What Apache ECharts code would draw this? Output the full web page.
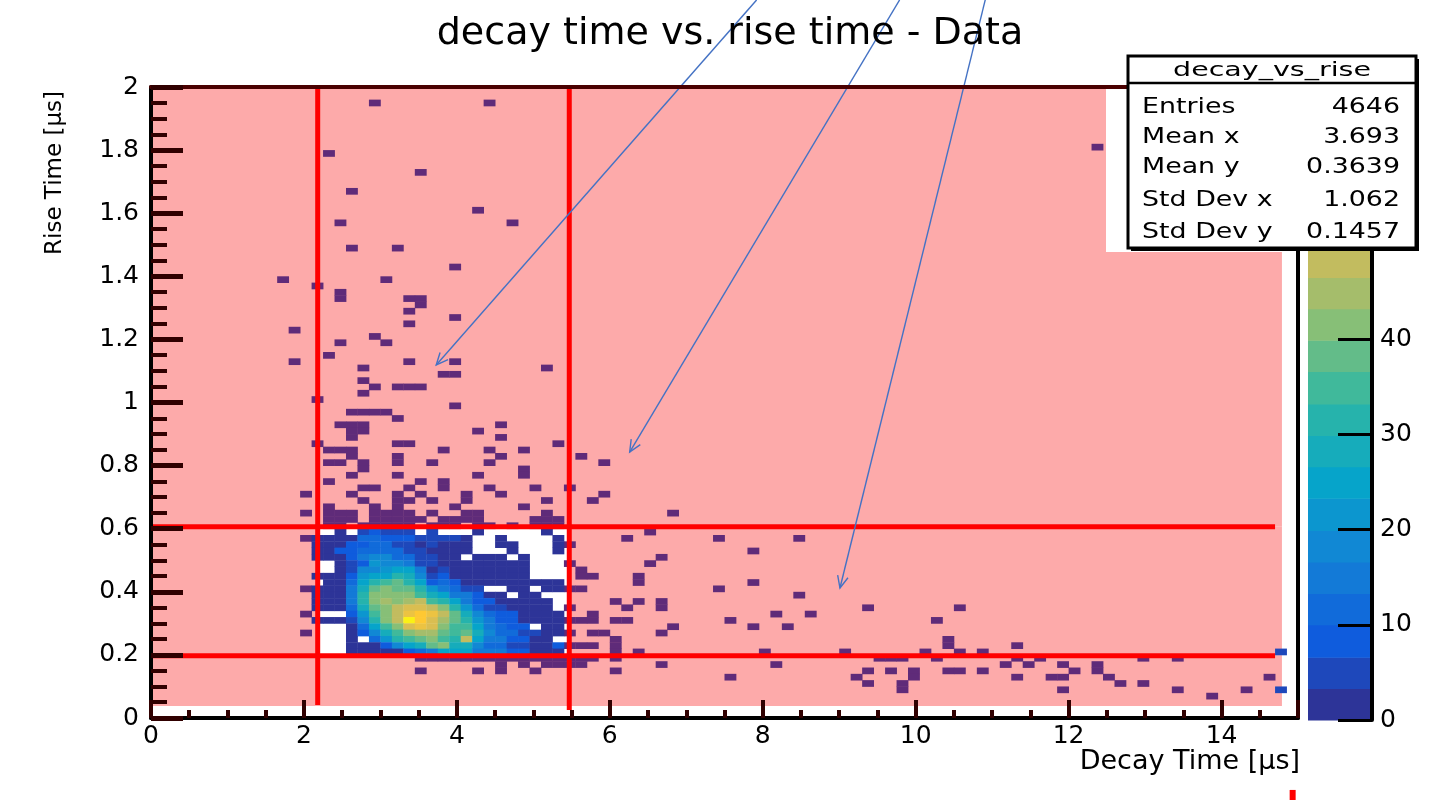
<!DOCTYPE html>
<html>
<head>
<meta charset="utf-8">
<title>decay time vs. rise time - Data</title>
<script src="https://cdn.jsdelivr.net/npm/echarts@6/dist/echarts.min.js"></script>
<style>
  html, body { margin: 0; padding: 0; background: #fff; }
  #chart { width: 1441px; height: 800px; }
</style>
</head>
<body>
<div id="chart"></div>
<script>
// TH2 binning: 100 x 100 bins over [0,15] us x [0,2] us
const xBinWidth = 0.15;
const yBinWidth = 0.02;

// counts of the unmasked box, rows from bin y=29 down to y=10, columns x=14..35
const coreFirstX = 14;
const coreTopY = 29;
const coreCounts = [
  [0,0,2,0,5,8,5,5,5,0,5, 0,0,0,2,0,0,0,0,0,2,0],
  [2,2,2,2,12,12,8,8,8,5,5, 5,5,2,0,0,2,0,0,0,0,2],
  [2,2,2,8,8,12,12,5,5,2,5, 2,2,2,0,0,2,2,0,0,0,2],
  [2,2,8,8,12,12,12,12,5,5,2, 2,2,2,0,0,0,2,0,0,0,2],
  [2,2,2,8,15,18,18,12,12,5,5, 2,2,0,2,2,2,0,2,0,0,0],
  [0,0,2,5,8,22,18,18,15,5,5, 2,2,2,2,2,2,2,2,0,0,0],
  [0,0,2,5,18,18,22,25,25,15,2, 5,2,2,2,2,2,2,2,0,0,0],
  [2,2,2,8,22,25,25,32,28,18,5, 8,2,2,2,2,2,2,2,0,0,0],
  [0,2,2,12,25,32,35,38,32,25,8, 12,8,2,2,2,2,2,2,2,2,2],
  [2,2,2,15,28,38,42,38,38,32,22, 15,12,5,5,0,0,2,2,0,2,2],
  [2,2,2,15,32,42,42,42,42,35,28, 25,15,15,8,2,2,0,2,2,0,0],
  [2,2,2,15,32,42,45,42,45,48,35, 32,25,15,8,8,2,2,2,2,2,0],
  [2,2,2,12,28,38,42,48,52,52,48, 42,32,22,12,5,5,2,2,2,2,0],
  [0,0,0,8,22,35,42,48,55,58,55, 48,38,28,18,12,8,8,2,2,2,2],
  [2,2,2,5,18,32,42,48,65,58,52, 45,38,32,22,15,8,8,2,2,2,2],
  [0,0,0,2,12,25,35,42,52,55,52, 42,35,35,25,15,12,8,8,0,2,2],
  [0,0,0,2,8,18,28,35,42,45,45, 38,35,38,28,18,12,12,5,5,2,2],
  [0,0,0,2,0,12,22,32,35,38,42, 35,32,48,25,15,15,8,8,2,2,0],
  [0,0,0,2,2,2,8,18,25,28,38, 42,28,28,18,12,12,5,5,2,2,8],
  [0,0,0,2,2,2,2,2,8,12,15, 25,25,25,15,15,15,8,8,2,2,2]
];

// filled bins under the pink mask: [y bin, [x bins]]
const maskedRows = [
  [97, [19, 29]], [90, [82]], [89, [15]], [86, [23]], [83, [17]], [80, [28]],
  [78, [16, 31]], [74, [17, 21]], [71, [26]], [69, [11, 20]], [68, [14]],
  [67, [16]], [66, [16, 22, 23]], [65, [23]], [64, [22]], [63, [26]], [62, [22]],
  [61, [12]], [60, [19]], [59, [16, 20]], [57, [15]], [56, [12, 22, 26]],
  [55, [18, 34]], [54, [25, 26]], [53, [18]], [52, [19, 21, 22, 23]], [51, [18]],
  [50, [14]], [49, [26]], [48, [17, 18, 19, 20]], [47, [21]], [46, [16, 17, 18, 30]],
  [45, [17, 18, 28]], [44, [17, 30]], [43, [14, 21, 22, 35]],
  [42, [15, 16, 17, 25, 29, 32]], [41, [17, 21, 30, 37]],
  [40, [15, 16, 18, 21, 24, 29, 39]], [39, [18, 32]], [38, [17, 21, 28, 32]],
  [37, [15, 23, 25]], [36, [18, 19, 22, 25, 29, 33, 36]],
  [35, [13, 17, 21, 23, 27, 30, 39]], [34, [18, 21, 22, 24, 27, 34, 38]],
  [33, [15, 19, 21, 26, 32]],
  [32, [13, 15, 16, 17, 19, 20, 21, 22, 24, 27, 28, 34, 45]],
  [31, [15, 16, 17, 19, 20, 21, 22, 23, 25, 26, 27, 28, 33, 34, 35]],
  [30, [15, 16, 18, 19, 20, 21, 22, 24, 25, 26, 28, 29, 31, 33, 34, 35]],
  [29, [43]], [28, [13, 41, 49, 56]], [27, [36]], [26, [52]], [25, [44]],
  [24, [36, 43]], [23, [37]], [22, [37, 38, 42]], [21, [42, 52]],
  [20, [13, 36, 37, 49]], [19, [56]], [18, [40, 42, 44]], [17, [36, 41, 44, 62, 70]],
  [16, [13, 38, 54, 57]], [15, [36, 37, 38, 40, 41, 50, 68]], [14, [45, 52, 55]],
  [13, [13, 36, 38, 39, 44]], [12, [40, 69]], [11, [36, 37, 38, 40, 69, 75]],
  [10, [40, 42, 53, 60, 67, 70, 72]],
  [9, [23, 24, 25, 26, 27, 28, 29, 30, 31, 32, 33, 34, 35, 36, 37, 38, 40, 63, 64, 65, 68, 75, 77, 86, 89]],
  [8, [30, 32, 34, 35, 36, 37, 44, 54, 74, 76, 79, 82]],
  [7, [23, 28, 30, 33, 40, 62, 64, 66, 69, 70, 72, 80, 82]],
  [6, [50, 61, 66, 75, 78, 79, 83, 97]], [5, [62, 65, 84, 86]],
  [4, [65, 79, 89, 95]], [3, [92]]
];

// filled bins right of the mask: [x bin, y bin, count]
const edgeCells = [[98, 10, 5], [98, 4, 5]];

// selection cuts (us) and the mask extent
const cutX = [2.18, 5.47];
const cutY = [0.197, 0.606];
const maskMaxX = 14.79;
const maskMinY = 0.038;
const cutLineEndX = 14.7;
const cutLineLowY = [0.041, 0.025];

// hand-drawn arrows, from start (above the frame) to tip
const arrowStarts = [[7.92, 2.276], [9.79, 2.276], [10.91, 2.276]];
const arrowEnds = [[3.73, 1.119], [6.26, 0.843], [9.01, 0.412]];

// colour scale (20 contours)
const contourLevels = [0, 3.3, 6.6, 10, 13.3, 16.6, 19.9, 23.3, 26.6, 29.9, 33.2,
  36.6, 39.9, 43.2, 46.5, 49.9, 53.2, 56.5, 59.8, 63.2, 66.5];
const birdColors = ['#2d3498', '#1e48bb', '#0f5cdd', '#116bda', '#137ad7', '#1188d4',
  '#0c96cf', '#06a4ca', '#16acbb', '#26b3ac', '#40b99b', '#63bc89', '#87bf77',
  '#a5bd6b', '#c2bc5f', '#dabe51', '#ecc342', '#fec832', '#fcdc24', '#faf115'];

// stats box
const statNames = ['Entries', 'Mean x', 'Mean y', 'Std Dev x', 'Std Dev y'];
const statValues = ['4646', '3.693', '0.3639', '1.062', '0.1457'];

const font = '"DejaVu Sans", sans-serif';
const pink = '#fdaaaa';
const maskedColor = '#5f2b79';
const tickColor = '#300000';
const arrowColor = '#4472c4';

const coreData = [];
coreCounts.forEach((row, r) => {
  row.forEach((c, k) => {
    if (c > 0) coreData.push([coreFirstX + k, coreTopY - r, c]);
  });
});
const maskedData = maskedRows.flatMap(([iy, xs]) => xs.map(ix => [ix, iy]));

const maskRects = [
  [0, cutY[1], maskMaxX, 2],
  [0, cutY[0], cutX[0], cutY[1]],
  [cutX[1], cutY[0], maskMaxX, cutY[1]],
  [0, maskMinY, maskMaxX, cutY[0]]
];
const cutLines = [
  [cutX[0], cutLineLowY[0], cutX[0], 2],
  [cutX[1], cutLineLowY[1], cutX[1], 2],
  [0, cutY[0], cutLineEndX, cutY[0]],
  [0, cutY[1], cutLineEndX, cutY[1]]
];
const colorBands = contourLevels.slice(0, -1).map((lo, i) => [lo, contourLevels[i + 1], (lo + contourLevels[i + 1]) / 2]);

function cellItem(fixedColor) {
  return function (params, api) {
    const ix = api.value(0), iy = api.value(1);
    const p = api.coord([ix * xBinWidth, (iy + 1) * yBinWidth]);
    const q = api.coord([(ix + 1) * xBinWidth, iy * yBinWidth]);
    return {
      type: 'rect',
      shape: { x: p[0], y: p[1], width: q[0] - p[0] + 0.4, height: q[1] - p[1] + 0.4 },
      style: { fill: fixedColor || api.visual('color') }
    };
  };
}

const labelStyle = { color: '#000', fontFamily: font, fontSize: 25 };
const frameOnly = { axisTick: { show: false }, axisLabel: { show: false }, splitLine: { show: false } };

const chart = echarts.init(document.getElementById('chart'));
chart.setOption({
  animation: false,
  backgroundColor: '#ffffff',
  title: {
    text: 'decay time vs. rise time - Data',
    left: 725, top: 10, textAlign: 'center',
    textStyle: { fontFamily: font, fontSize: 38, fontWeight: 'normal', color: '#000' }
  },
  grid: [
    { left: 151, top: 87, width: 1147, height: 631, outerBoundsMode: 'none' },
    { left: 1308, top: 87, width: 64, height: 633, outerBoundsMode: 'none' }
  ],
  xAxis: [
    {
      gridIndex: 0, type: 'value', min: 0, max: 15, interval: 2, z: 6,
      axisLine: { onZero: false, lineStyle: { color: '#000', width: 4 } },
      axisTick: { inside: true, length: 18, lineStyle: { color: tickColor, width: 4 } },
      minorTick: { show: true, splitNumber: 4, length: 8, lineStyle: { color: tickColor, width: 4 } },
      axisLabel: Object.assign({ margin: 6, showMaxLabel: false }, labelStyle),
      splitLine: { show: false }
    },
    Object.assign({
      gridIndex: 0, type: 'value', min: 0, max: 15, position: 'top', z: 6,
      axisLine: { onZero: false, lineStyle: { color: '#4a0000', width: 4 } }
    }, frameOnly),
    { gridIndex: 1, type: 'value', min: 0, max: 1, show: false }
  ],
  yAxis: [
    {
      gridIndex: 0, type: 'value', min: 0, max: 2, interval: 0.2, z: 6,
      axisLine: { onZero: false, lineStyle: { color: '#000', width: 4 } },
      axisTick: { inside: true, length: 32, lineStyle: { color: tickColor, width: 5 } },
      minorTick: { show: true, splitNumber: 4, length: 16, lineStyle: { color: tickColor, width: 4 } },
      axisLabel: Object.assign({ margin: 12 }, labelStyle),
      splitLine: { show: false }
    },
    Object.assign({
      gridIndex: 0, type: 'value', min: 0, max: 2, position: 'right', z: 6,
      axisLine: { onZero: false, lineStyle: { color: '#000', width: 4 } }
    }, frameOnly),
    {
      gridIndex: 1, type: 'value', min: 0, max: 66.5, interval: 10, position: 'right', z: 6,
      axisLine: { onZero: false, lineStyle: { color: '#000', width: 4 } },
      axisTick: { inside: true, length: 34, lineStyle: { color: '#000', width: 3 } },
      axisLabel: Object.assign({ margin: 8, showMaxLabel: false }, labelStyle),
      splitLine: { show: false }
    }
  ],
  visualMap: {
    type: 'piecewise', show: false, dimension: 2, seriesIndex: [2, 3, 5],
    pieces: colorBands.map((b, i) => ({ gte: b[0], lt: b[1], color: birdColors[i] }))
  },
  series: [
    {
      name: 'mask', type: 'custom', xAxisIndex: 0, yAxisIndex: 0, z: 1, silent: true,
      data: maskRects,
      renderItem: (params, api) => {
        const p = api.coord([api.value(0), api.value(3)]);
        const q = api.coord([api.value(2), api.value(1)]);
        return { type: 'rect', shape: { x: p[0], y: p[1], width: q[0] - p[0], height: q[1] - p[1] }, style: { fill: pink } };
      }
    },
    { name: 'masked bins', type: 'custom', xAxisIndex: 0, yAxisIndex: 0, z: 2, data: maskedData, renderItem: cellItem(maskedColor) },
    { name: 'decay_vs_rise', type: 'custom', xAxisIndex: 0, yAxisIndex: 0, z: 2, data: coreData, renderItem: cellItem(null) },
    { name: 'edge bins', type: 'custom', xAxisIndex: 0, yAxisIndex: 0, z: 2, data: edgeCells, renderItem: cellItem(null) },
    {
      name: 'cuts', type: 'custom', xAxisIndex: 0, yAxisIndex: 0, z: 3, silent: true,
      data: cutLines,
      renderItem: (params, api) => {
        const p = api.coord([api.value(0), api.value(1)]);
        const q = api.coord([api.value(2), api.value(3)]);
        return { type: 'line', shape: { x1: p[0], y1: p[1], x2: q[0], y2: q[1] }, style: { stroke: '#ff0000', lineWidth: 5 } };
      }
    },
    {
      name: 'palette', type: 'custom', xAxisIndex: 2, yAxisIndex: 2, z: 2, silent: true,
      data: colorBands,
      renderItem: (params, api) => {
        const p = api.coord([0, api.value(1)]);
        const q = api.coord([1, api.value(0)]);
        return { type: 'rect', shape: { x: p[0], y: p[1], width: q[0] - p[0], height: q[1] - p[1] + 0.5 }, style: { fill: api.visual('color') } };
      }
    }
  ]
});

// annotations placed through the main axes
const toPx = p => chart.convertToPixel({ xAxisIndex: 0, yAxisIndex: 0 }, p);
const graphics = [];
arrowStarts.forEach((s, i) => {
  const a = toPx(s), b = toPx(arrowEnds[i]);
  const ang = Math.atan2(a[1] - b[1], a[0] - b[0]);
  const head = [ang - 0.42, ang + 0.42].map(t => [b[0] + 13 * Math.cos(t), b[1] + 13 * Math.sin(t)]);
  graphics.push({ type: 'line', z: 4, shape: { x1: a[0], y1: a[1], x2: b[0], y2: b[1] }, style: { stroke: arrowColor, lineWidth: 1.4 } });
  graphics.push({ type: 'polyline', z: 4, shape: { points: [head[0], b, head[1]] }, style: { stroke: arrowColor, lineWidth: 1.4, fill: null } });
});
const stubTop = toPx([14.93, -0.228]), stubBottom = toPx([14.93, -0.262]);
graphics.push({ type: 'line', z: 4, shape: { x1: stubTop[0], y1: stubTop[1], x2: stubBottom[0], y2: stubBottom[1] }, style: { stroke: '#ff0000', lineWidth: 6 } });

// axis titles
graphics.push({
  type: 'text', z: 6, x: 55, y: 91, rotation: Math.PI / 2,
  style: { text: 'Rise Time [\u03bcs]', fontFamily: font, fontSize: 23, fill: '#000', align: 'right', verticalAlign: 'middle' }
});
graphics.push({
  type: 'text', z: 6, x: 1300, y: 762,
  style: { text: 'Decay Time [\u03bcs]', fontFamily: font, fontSize: 27, fill: '#000', align: 'right', verticalAlign: 'middle' }
});

// stats box
graphics.push({ type: 'rect', z: 5, shape: { x: 1106, y: 89, width: 196, height: 163 }, style: { fill: '#fff' } });
graphics.push({ type: 'rect', z: 10, shape: { x: 1131, y: 59, width: 288, height: 192 }, style: { fill: '#000' } });
graphics.push({ type: 'rect', z: 10, shape: { x: 1128, y: 56, width: 288, height: 192 }, style: { fill: '#fff', stroke: '#000', lineWidth: 3 } });
graphics.push({ type: 'line', z: 10, shape: { x1: 1128, y1: 83, x2: 1416, y2: 83 }, style: { stroke: '#000', lineWidth: 2.5 } });
graphics.push({
  type: 'text', z: 10, x: 1272, y: 71, scaleX: 1.5,
  style: { text: 'decay_vs_rise', fontFamily: font, fontSize: 19, fill: '#000', align: 'center', verticalAlign: 'middle' }
});
const statRowY = [107, 137, 167, 200, 232];
statNames.forEach((n, i) => {
  graphics.push({ type: 'text', z: 10, x: 1142, y: statRowY[i], scaleX: 1.22, style: { text: n, fontFamily: font, fontSize: 22, fill: '#000', align: 'left', verticalAlign: 'middle' } });
  graphics.push({ type: 'text', z: 10, x: 1400, y: statRowY[i], scaleX: 1.22, style: { text: statValues[i], fontFamily: font, fontSize: 22, fill: '#000', align: 'right', verticalAlign: 'middle' } });
});

chart.setOption({ graphic: graphics });
</script>
</body>
</html>
